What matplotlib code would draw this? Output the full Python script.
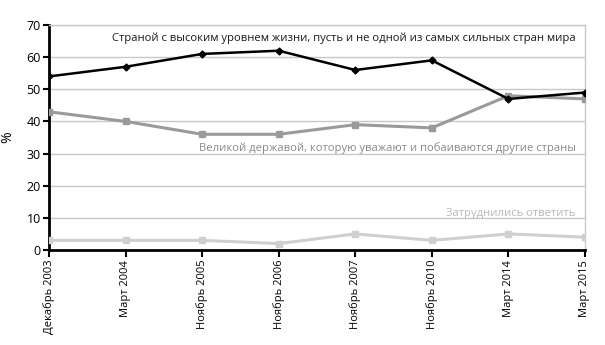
import matplotlib.pyplot as plt

plt.rcParams.update({'font.family': ['Open Sans', 'DejaVu Sans']})

periods = ['Декабрь 2003', 'Март 2004', 'Ноябрь 2005', 'Ноябрь 2006',
           'Ноябрь 2007', 'Ноябрь 2010', 'Март 2014', 'Март 2015']
high_living = [54, 57, 61, 62, 56, 59, 47, 49]
great_power = [43, 40, 36, 36, 39, 38, 48, 47]
no_answer = [3, 3, 3, 2, 5, 3, 5, 4]

label_high = 'Страной с высоким уровнем жизни, пусть и не одной из самых сильных стран мира'
label_power = 'Великой державой, которую уважают и побаиваются другие страны'
label_none = 'Затруднились ответить'

fig = plt.figure(figsize=(6.05, 3.45), dpi=100)
ax = fig.add_axes([49 / 605, 1 - 250 / 345, 536 / 605, 225 / 345])

x = range(len(periods))
ax.plot(x, no_answer, color='#cfcfcf', lw=2.2, marker='s', ms=4, zorder=3)
ax.plot(x, great_power, color='#9a9a9a', lw=2.2, marker='s', ms=5, zorder=4)
ax.plot(x, high_living, color='black', lw=1.8, marker='D', ms=3.5, zorder=5)

ax.set_xlim(0, len(periods) - 1)
ax.set_ylim(0, 70)
ax.set_yticks(range(0, 71, 10))
ax.set_xticks(list(x))
ax.set_xticklabels(periods, rotation=90, fontsize=8)
ax.tick_params(axis='y', labelsize=9, length=4, width=1.5, pad=2)
ax.tick_params(axis='x', length=5, width=1.5, pad=2)
ax.grid(axis='y', color='#c8c8c8', lw=1)
ax.set_axisbelow(True)

for s in ['left', 'bottom']:
    ax.spines[s].set_linewidth(2)
    ax.spines[s].set_color('black')
for s in ['top', 'right']:
    ax.spines[s].set_color('#c8c8c8')
    ax.spines[s].set_linewidth(1)

ax.set_ylabel('%', fontsize=10, labelpad=8)

ax.text(6.88, 65.8, label_high, ha='right', va='center', fontsize=8.15, color='#1a1a1a')
ax.text(6.88, 31.8, label_power, ha='right', va='center', fontsize=8.15, color='#8a8a8a')
ax.text(6.88, 11.5, label_none, ha='right', va='center', fontsize=8.15, color='#b8b8b8')

fig.savefig('out.png', dpi=100)
